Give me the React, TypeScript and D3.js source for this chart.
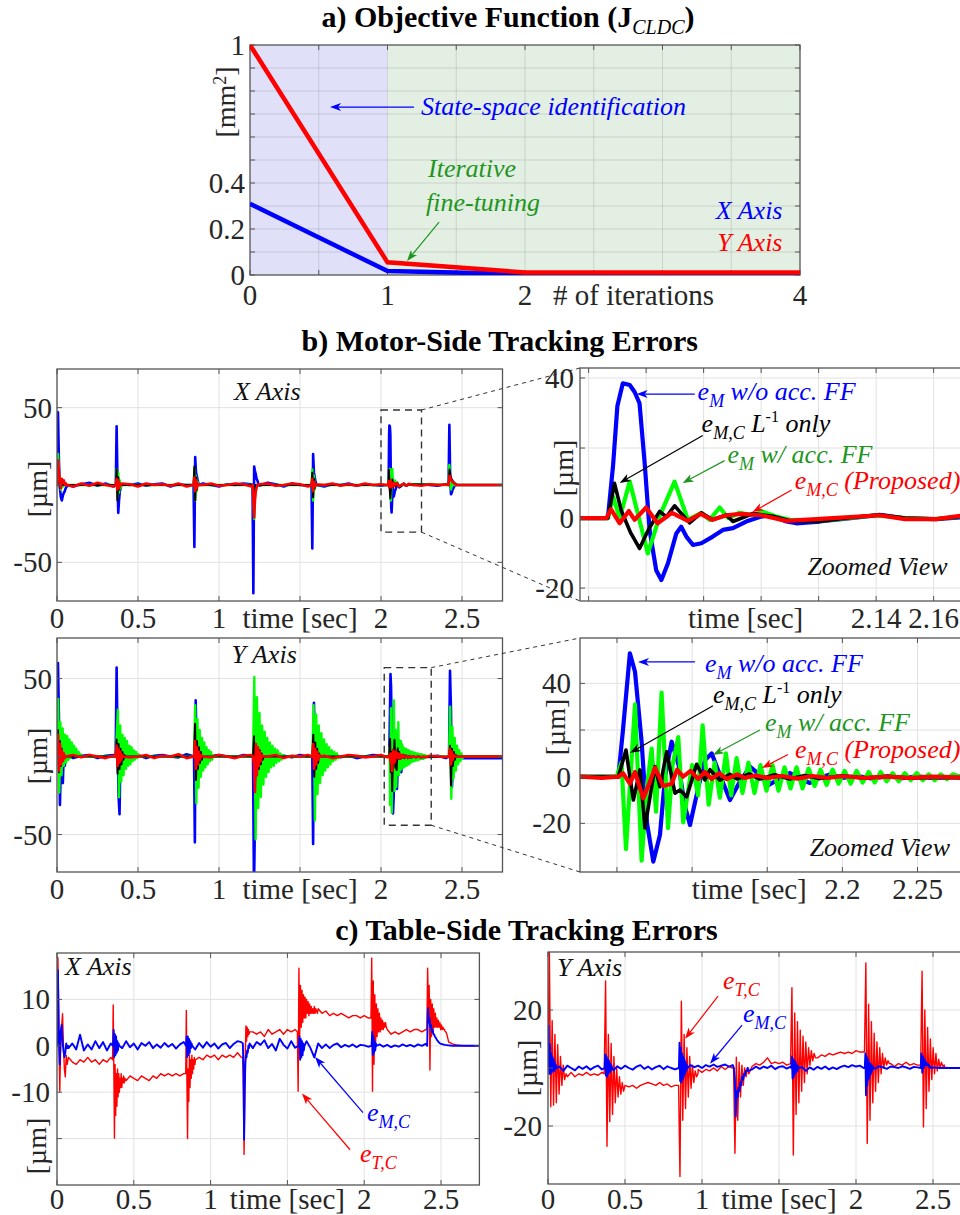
import React from "react";
import * as d3 from "d3";

type Pt = [number, number];
type Burst = { t0: number; dt: number; v: number[] };
type Series = { pts: Pt[]; color: string; width: number };

const FONT = "Liberation Serif";
const BLUE = "#0000ff";
const RED = "#ff0000";
const LIME = "#00ff00";
const BLACK = "#000000";
const DKGREEN = "#1e961e";
const INK = "#262626";
const BOX = "#555555";
const GRID = "#e1e1e1";

// ---------- a) objective function per tuning iteration ----------
const iterations = [0, 1, 2, 3, 4];
const costXAxis = [0.31, 0.017, 0.004, 0.004, 0.004];
const costYAxis = [1.0, 0.055, 0.011, 0.011, 0.011];

// ---------- common time axis ----------
const timeTicks = [0, 0.5, 1, 1.5, 2, 2.5];
const timeTickText = ["0", "0.5", "1", "time [sec]", "2", "2.5"];

// ---------- b) motor-side errors, X axis ----------
// quiet-period ripple, one sample every 0.05 s
const mxBlueQuiet = [
  0, 1, -1, 0.5, 1.5, -0.5, 1, -1, 0.5, 0,
  1, -0.5, 0.5, 1, -1, 0.5, 0, -0.5, 1, 0,
  -1, 0.5, 0, 1, 0.5, -0.5, 1.5, 0.5, -1, 1,
  0, -0.5, 1, -1, 0.5, 0, 1, -0.5, 0.5, 0,
  -0.5, 1, -0.5, 0.5, 0, 0.5, 0, -0.5, 0.5, 0,
  0, 0, 0, 0, 0, 0,
];
const mxRedQuiet = [
  0, 2, -1, 1, -0.5, 1.5, 0, -1, 1, 0.5,
  -1, 1, 0, 0.5, -0.5, 1, -1, 0.5, 0, 1,
  -0.5, 0, 1, 0.5, -1, 0.5, 1, -0.5, 0, 1,
  0.5, -1, 0.5, 0, 1, -0.5, 0.5, -0.5, 1, 0,
  0.5, -0.5, 0, 0.5, 0, -0.5, 0.5, 0, 0.3, 0,
  0, 0, 0, 0, 0, 0,
];
const flatQuiet = [0, 0];

const mxBlueBursts: Burst[] = [
  { t0: 0, dt: 0.006, v: [0, 47, 15, -2, -8, -10, -7, -5, -4, -2, -1, 0] },
  { t0: 0.363, dt: 0.005, v: [0, 38, 5, -18, -10, -4, -2, 0] },
  { t0: 0.843, dt: 0.005, v: [0, -40, 18, 8, 6, 3, 1, 0] },
  { t0: 1.207, dt: 0.005, v: [0, -70, 12, 9, 7, 4, 3, 1, 0] },
  { t0: 1.571, dt: 0.005, v: [0, -41, 20, 8, 5, 2, 0] },
  { t0: 2.417, dt: 0.005, v: [0, 39, 5, -6, -5, -3, -2, -1, 0] },
];
const mxGreenBursts: Burst[] = [
  { t0: 0, dt: 0.006, v: [0, 20, 8, 0, -3, 2, -1, 0] },
  { t0: 0.363, dt: 0.005, v: [0, 10, -8, 8, -5, 3, -2, 0] },
  { t0: 0.843, dt: 0.005, v: [0, 10, -10, 6, -4, 2, 0] },
  { t0: 1.207, dt: 0.005, v: [0, -5, -22, -8, -2, 0] },
  { t0: 1.571, dt: 0.005, v: [0, 10, -10, 6, -3, 0] },
  { t0: 2.417, dt: 0.005, v: [0, 13, 2, -3, 1, 0] },
];
const mxBlackBursts: Burst[] = [
  { t0: 0, dt: 0.006, v: [0, 12, 5, -2, 3, 0] },
  { t0: 0.363, dt: 0.005, v: [0, 10, -10, 5, -3, 1, 0] },
  { t0: 0.843, dt: 0.005, v: [0, 12, -10, 5, -3, 1, 0] },
  { t0: 1.207, dt: 0.005, v: [0, -6, -12, -4, 0] },
  { t0: 1.571, dt: 0.005, v: [0, 8, -8, 4, -2, 0] },
  { t0: 2.417, dt: 0.006, v: [0, 10, 6, 4, 3, 2, 1.5, 1, 0.5, 0] },
];
const mxRedBursts: Burst[] = [
  { t0: 0, dt: 0.006, v: [0, 16, 8, 2, -2, 4, 2, 3, 0, 1, 0] },
  { t0: 0.363, dt: 0.005, v: [0, 4, -3, 3, -2, 1, 0] },
  { t0: 0.843, dt: 0.005, v: [0, 5, -4, 3, -2, 1, 0] },
  { t0: 1.207, dt: 0.005, v: [0, -8, -21, -10, -4, -2, 0] },
  { t0: 1.571, dt: 0.005, v: [0, 4, -4, 2, -1, 0] },
  { t0: 2.417, dt: 0.006, v: [0, 6, 4, 3, 2, 1.5, 1, 0.5, 0] },
];

// transient around t = 2.05 s, X axis (detailed samples)
const mxZoomBlue: Pt[] = [
  [2.037, 0], [2.0467, 0], [2.0485, 15], [2.05, 32], [2.0519, 38.5], [2.0543, 38], [2.056, 36],
  [2.0577, 32.8], [2.0595, 15.6], [2.0612, -3.4], [2.0635, -14.9], [2.0653, -17.7], [2.0676, -12.9],
  [2.0705, -4.4], [2.0722, -2.5], [2.074, -5.3], [2.0763, -7.7], [2.0792, -7.2], [2.0832, -5.3],
  [2.0867, -3.4], [2.0902, -2.9], [2.0948, -1], [2.0995, 0.3], [2.103, 0.9], [2.1088, -1],
  [2.1122, -1.5], [2.1203, -1], [2.1319, 0], [2.1412, 0.9], [2.1493, 0], [2.1609, -0.3], [2.171, 0.3],
];
const mxZoomGreen: Pt[] = [
  [2.037, 0], [2.0467, 0], [2.0485, 6.1], [2.0508, 0], [2.0543, 10.4], [2.0575, 0], [2.0606, -10.1],
  [2.0647, 0.5], [2.0699, 10.4], [2.0745, -0.5], [2.0792, 1.5], [2.0821, -0.5], [2.0856, 3],
  [2.0885, 0], [2.0925, 1.5], [2.0972, 0.8], [2.1006, 1.8], [2.105, 0.5], [2.11, -0.5], [2.12, -0.8],
  [2.13, 0], [2.14, 0.8], [2.15, 0], [2.16, -0.3], [2.171, 0.5],
];
const mxZoomBlack: Pt[] = [
  [2.037, 0], [2.0467, 0], [2.049, 9.9], [2.0514, 2], [2.0545, -4], [2.0577, -8.7], [2.061, -3],
  [2.0647, 1.9], [2.067, 0.3], [2.0699, 3.5], [2.0751, -1.4], [2.0792, 1.5], [2.0832, -0.5],
  [2.0879, 0.9], [2.0902, -1], [2.0972, 1.3], [2.1041, 0.5], [2.11, -0.8], [2.12, -1], [2.13, 0],
  [2.1412, 0.9], [2.15, 0], [2.1609, -0.3], [2.171, 0.5],
];
const mxZoomRed: Pt[] = [
  [2.037, 0], [2.0462, 0], [2.0478, 2.5], [2.0508, -1.5], [2.054, 2], [2.056, -0.5], [2.06, 3],
  [2.064, -1.5], [2.069, 1.5], [2.0745, -0.8], [2.079, 1.2], [2.083, -0.5], [2.088, 0.8], [2.093, 1.2],
  [2.1, 0.8], [2.1088, -0.8], [2.115, -0.5], [2.125, 0], [2.1412, 0.8], [2.15, -0.3], [2.1609, -0.3],
  [2.171, 0.8],
];

// ---------- b) motor-side errors, Y axis ----------
const myBlueQuiet = [
  0, 1.5, -1, 0.5, 1, -1, 0.5, 1, -0.5, 0,
  1, -1, 0.5, 1, 0, -0.5, 1.5, 0, -1, 0.5,
  1, 0, -0.5, 1, 0.5, -1, 1, 0, 0.5, -0.5,
  1, 0, -1, 0.5, 1, -0.5, 0.5, -1, 0, 1,
  0.5, -0.5, 1, 0, 0.5, -0.5, 0, 0.5, -1, -1,
  -1, -1, -1, -1, -1, -1,
];
const myRedQuiet = [
  0, -1.5, 1, -0.5, 1, 0, -1, 0.5, 1, -0.5,
  0, 1, -1, 0.5, 0, 1.5, -1, 0.5, 0, -0.5,
  1, 0, -1, 0.5, 1, -0.5, 0, 1, -1, 0.5,
  0, 1, -0.5, 0.5, -1, 0, 1, 0.5, -0.5, 0,
  1, -0.5, 0, 0.5, -0.5, 0, 0.5, 0, -0.3, 0,
  0, 0, 0, 0, 0, 0,
];
const myBlueBursts: Burst[] = [
  { t0: 0, dt: 0.006, v: [0, 60, 25, -31, -5, 10, -17, 4, -6, 2, -2, 0] },
  { t0: 0.362, dt: 0.006, v: [0, 57, 10, -25, -37, 5, 8, -10, 3, -3, 0] },
  { t0: 0.846, dt: 0.005, v: [0, -55, 36, 10, -10, 8, -5, 4, -2, 0] },
  { t0: 1.21, dt: 0.006, v: [0, -85, -40, 33, 10, 25, -10, 15, -5, 8, -3, 4, 0] },
  { t0: 1.576, dt: 0.005, v: [0, -56, 34.5, 15, -10, 12, -6, 6, -3, 2, 0] },
  { t0: 2.42, dt: 0.006, v: [0, 55, 30, -19.5, -5, -3, -2, -1.5, -1] },
];
const myGreenBursts: Burst[] = [
  { t0: 0, dt: 0.007, v: [0, 37, -23, 22, -12, 18, -6, 14, -4, 13, -2, 11, -1, 9, 1, 7, 0, 5, 1, 3, 0, 1.5, 0] },
  { t0: 0.362, dt: 0.007, v: [0, 15, 30, -26, 20, -16, 14, -12, 12, -8, 10, -6, 7, -5, 6, -3, 4, -2, 3, -1, 1.5, 0] },
  { t0: 0.846, dt: 0.007, v: [0, 33, -30, 24, -20, 17, -13, 12, -9, 9, -7, 6, -5, 4, -3, 3, -2, 1, 0] },
  { t0: 1.21, dt: 0.008, v: [0, 51, -53, 38, -33, 28, -26, 20, -18, 16, -13, 12, -10, 9, -7, 7, -6, 5, -4, 4, -3, 2, -2, 1, 0] },
  { t0: 1.576, dt: 0.008, v: [0, 33, -41, 27, -24, 20, -17, 15, -12, 11, -9, 8, -7, 6, -5, 4, -3, 3, -2, 2, -1, 0] },
  { t0: 2.42, dt: 0.007, v: [0, 32, -27, 19, -14, 12, -9, 7, -5, 4, -3, 2, -1, 0] },
];
const myBlackBursts: Burst[] = [
  { t0: 0, dt: 0.006, v: [0, 17, -10, 10, -6, 5, -3, 2, 0] },
  { t0: 0.362, dt: 0.006, v: [0, 11, -11, 8, -8, 5, -5, 3, -2, 1, 0] },
  { t0: 0.846, dt: 0.006, v: [0, 21, -15, 10, -8, 6, -4, 3, -2, 0] },
  { t0: 1.21, dt: 0.006, v: [0, 13, -22, 8, -12, 6, -8, 4, -5, 2, -2, 0] },
  { t0: 1.576, dt: 0.006, v: [0, 14, -13, 9, -8, 5, -4, 2, 0] },
  { t0: 2.42, dt: 0.006, v: [0, 7, -18.5, 5, -6, 3, -2, 1, 0] },
];
const myRedBursts: Burst[] = [
  { t0: 0, dt: 0.006, v: [0, 14, -9, 8, -5, 4, -3, 2, -1, 0] },
  { t0: 0.362, dt: 0.006, v: [0, 7, -6, 5, -4, 3, -2, 1, 0] },
  { t0: 0.846, dt: 0.006, v: [0, 10, -8, 6, -5, 3, -2, 1, 0] },
  { t0: 1.21, dt: 0.006, v: [0, -5, -22.7, 8, -12, 6, -6, 3, -3, 1, 0] },
  { t0: 1.576, dt: 0.006, v: [0, 8, -8, 5, -5, 3, -2, 1, 0] },
  { t0: 2.42, dt: 0.006, v: [0, 5, -5, 3, -2, 1, 0] },
];

// transient around t = 2.05 s, Y axis (detailed samples)
const myZoomBlue: Pt[] = [
  [2.0254, 0], [2.0509, 0], [2.054, 20], [2.0586, 52.9], [2.062, 45], [2.0664, 15], [2.07, -20],
  [2.0742, -36.4], [2.0786, -25], [2.082, 0], [2.0864, 15], [2.091, 5], [2.095, -12], [2.0986, -20.7],
  [2.104, -5], [2.1085, 7], [2.113, 10], [2.119, 0], [2.1252, -10], [2.131, -3], [2.1385, 4.3],
  [2.1445, 1], [2.1507, -3.6], [2.158, -1], [2.1651, 1.6], [2.172, -1], [2.1784, -2.7], [2.185, -0.5],
  [2.1917, 0.9], [2.2, -0.5], [2.21, 0.3], [2.22, -0.8], [2.23, 0.2], [2.24, -0.6], [2.25, 0.2],
  [2.26, -0.5], [2.2782, 0],
];
const myZoomGreen: Pt[] = [
  [2.0254, 0], [2.0498, 0], [2.053, 6], [2.056, -31], [2.062, 31], [2.0664, -36], [2.07, -4],
  [2.0731, 12], [2.076, -15], [2.0797, 36], [2.084, -22], [2.087, 5], [2.0908, 17], [2.0941, -19.6],
  [2.1, 5], [2.104, -8], [2.107, 22], [2.111, -12], [2.115, 6], [2.1185, -9], [2.1225, 10],
  [2.126, -8], [2.1296, 8], [2.1335, -7], [2.1375, 6], [2.1415, -7], [2.1455, 5], [2.1495, -6],
  [2.1535, 5], [2.1575, -6], [2.1615, 4], [2.1655, -5], [2.1695, 4], [2.1735, -5], [2.1775, 3.5],
  [2.1815, -4], [2.1855, 3], [2.1895, -3.5], [2.1935, 3], [2.1975, -3], [2.2015, 2.5], [2.2055, -3],
  [2.2095, 2.5], [2.2135, -2.5], [2.2175, 2], [2.2215, -2.5], [2.2255, 2], [2.2295, -2], [2.2335, 1.5],
  [2.2375, -2], [2.2415, 1.5], [2.2455, -1.5], [2.2495, 1.5], [2.2535, -1.5], [2.2575, 1],
  [2.2615, -1.5], [2.2655, 1], [2.2695, -1], [2.2735, 1], [2.2782, 0],
];
const myZoomBlack: Pt[] = [
  [2.0254, 0], [2.0509, 0], [2.056, 11.4], [2.0609, -10], [2.0653, 2.9], [2.0686, -22], [2.0753, 4.4],
  [2.0786, -4.3], [2.0831, 10.7], [2.0886, -7.1], [2.0919, -5.7], [2.0964, -8.6], [2.103, 5.3],
  [2.1085, -1.4], [2.1119, 3], [2.1185, -1.5], [2.125, 1], [2.13, -1], [2.138, 1.2], [2.145, -1],
  [2.155, 0.8], [2.165, -1], [2.175, 0.5], [2.185, -0.8], [2.2, 0.4], [2.215, -0.6], [2.23, 0.2],
  [2.245, -0.6], [2.26, -0.3], [2.2782, -0.5],
];
const myZoomRed: Pt[] = [
  [2.0254, 0], [2.04, -0.5], [2.0509, 0], [2.054, 1.5], [2.0586, -3], [2.062, 2], [2.0675, -9.3],
  [2.072, -2], [2.0753, 3.9], [2.0808, -4], [2.0864, -3], [2.09, 3], [2.094, 0], [2.099, 2.5],
  [2.104, -1], [2.1085, 2], [2.113, -1], [2.118, 1.5], [2.123, -1], [2.13, 1], [2.135, -0.5],
  [2.142, 0.5], [2.15, -0.5], [2.16, 0.3], [2.17, -0.8], [2.18, 0.3], [2.19, -0.5], [2.2, 0.2],
  [2.215, -0.5], [2.23, 0], [2.245, -0.5], [2.26, 0], [2.2782, -0.3],
];

// ---------- c) table-side errors (samples every 0.025 s between transients) ----------
const cxRedQuiet = [
  0, -3, -4, -2.5, -3.5, -4, -3, -3.5, -2.5, -3.5,
  -3, -4, -3, -3.5, -2.5, -3, -7, -6, -7.5, -6.5,
  -7, -7.5, -6.5, -7, -7.5, -6.5, -7, -6, -6.5, -6,
  -6.5, -6, -6.5, -6, -6, -3, -3.5, -2.5, -3, -2,
  -2.5, -2, -3, -2, -2.5, -2, -2.5, -1.5, -2.5, 0,
  2, 3, 2.5, 3, 2, 3.5, 2.5, 3, 3.5, 2.5,
  3.5, 3, 3.5, 3, 5, 8, 8, 7, 8, 7,
  7.5, 6.5, 7, 6.5, 7, 6.5, 6, 6.5, 6.5, 6,
  6.5, 6, 5, 5, 4, 3, 3.5, 2.5, 3, 2.5,
  3, 3.5, 3, 3.5, 3.5, 3, 3.5, 3.5, 3.5, 3,
  2, 1.2, 0.8, 0.4, 0.2, 0.1, 0, 0, 0, 0, 0,
];
const cxBlueQuiet = [
  0, 2, -1.5, -0.5, 0.5, -0.8, 2.4, -1, 0.3, -0.8,
  1, -0.5, 0.8, -1, 0.5, 0, 0.8, -0.5, 1, -0.3,
  0.5, -0.8, 0.6, 0, 0.8, -0.5, 0.3, -0.4, 0.6, -0.2,
  0.4, -0.6, 0.3, 0.8, 0, 0.5, -0.8, 0.6, -0.4, 0.8,
  -0.2, 0.5, -0.6, 0.3, 0.6, -0.5, 0.4, 1, 0.8, 0,
  -1.5, -0.5, 0.8, 0.2, 1.2, -0.5, 0.4, -1, 1.5, 0.2,
  -0.6, 1, -0.4, 0.5, 0, 1, -0.5, -2.5, 0.5, -0.5,
  0.3, -0.5, 0.2, 0.5, -0.3, 0.2, -0.2, 0.3, -0.3, 0.2,
  0.1, -0.2, 0, -0.5, 0.3, -0.2, 0.2, -0.3, 0.1, -0.2,
  0.3, -0.1, 0.2, -0.2, 0.3, 0, 0.4, 0, 0.5, 0.4,
  0.3, 0.2, 0.1, 0, 0, 0, 0, 0, 0, 0, 0,
];
const cxRedBursts: Burst[] = [
  { t0: 0, dt: 0.006, v: [0, 19, 4, -9.8, 0, 4, 6.9, 0, -5, -6.7, -2, -4, -3] },
  { t0: 0.362, dt: 0.004, v: [-3, 8.8, -5, -19.9, -4, -15, -6, -13, -5, -11, -6, -10, -7, -9, -6, -9, -7, -8, -6.5, -8, -7] },
  { t0: 0.838, dt: 0.004, v: [-6, 7.6, -8, -20, -5, -12, -2, -9, -3, -7, -2, -6, -3, -5, -2.5, -4, -3] },
  { t0: 1.21, dt: 0.004, v: [-2.5, -10, -23.4, -12, -2, 4.3, 1, 4, 2, 3.5, 2.5, 3] },
  { t0: 1.565, dt: 0.005, v: [3, -9.8, 16.7, 2, 13, 4, 12, 5, 11, 6, 10.5, 6, 10, 7, 9.5, 6.5, 9, 7, 8.5, 7, 8, 7, 8.5, 7, 8, 7.5, 7] },
  { t0: 2.044, dt: 0.005, v: [6, 18.9, -9.8, 14, -4, 11, 0, 9, 2, 8, 3, 7, 3, 6, 3.5, 5.5, 3.5, 5, 4, 5, 4] },
  { t0: 2.408, dt: 0.005, v: [3.5, 16.7, 8, 13, -5.2, 10, 2, 9, 3, 8, 4, 7, 4, 6, 4, 5.5, 4, 5, 3.5, 4.5, 3.5, 4, 3.5, 3.5, 3, 3, 2.5] },
];
const cxBlueBursts: Burst[] = [
  { t0: 0, dt: 0.006, v: [0, 16.3, 2, -4, 3, 4.5, 1, -1, -2.4, -1.5, 0.5, -0.5, 0] },
  { t0: 0.365, dt: 0.004, v: [0, 3.4, -2.4, 2.5, -2, 2, -1.5, 1, -1, 0.5, 0] },
  { t0: 0.84, dt: 0.004, v: [0, 2, -2.4, 2, -2, 1.5, -1.5, 1, -0.5, 0.5, 0] },
  { t0: 1.21, dt: 0.004, v: [0.5, -5, -20.2, -10, -4, -2, -2.5, -1, -1.5, 0, -0.5, 0.5] },
  { t0: 1.575, dt: 0.004, v: [0, 2, -3, 1.5, -2.5, 1, -2, 0.5, -1, 0] },
  { t0: 2.048, dt: 0.004, v: [0, 3, -2, 2, -1.5, 1, -1, 0.5, 0] },
  { t0: 2.41, dt: 0.005, v: [0, 8.1, 5, 6, 4, 4.5, 3, 3.5, 2.5, 2.5, 2, 1.8, 1.5, 1.2, 1, 0.8, 0.6, 0.5, 0.4] },
];

const cyRedQuiet = [
  0, -2, -3, -2, -3, -2.5, -1.5, -3, -2, -2.5,
  -1.5, -2.5, -2, -2.5, -1.5, -2, -5, -6, -5.5, -7,
  -5.5, -6.5, -6, -7, -6, -5.5, -5, -5.5, -6, -5,
  -6, -5.5, -6.5, -6, -6, -2, -3, -1, -2, -0.5,
  -1.5, -0.5, -1, 0, -1, 0.5, -0.5, 0.5, 0, 0,
  -2, 0, 1, 0.5, 1.5, 1, 2, 3.5, 1.5, 2,
  1.5, 2, 1, 1.5, 1.5, 2, 3, 3, 3.5, 4,
  3.5, 4.5, 4, 5, 4.5, 5, 5.5, 5, 5.5, 5,
  6, 5.5, 5.5, 4, 3, 2, 1.5, 2, 1, 1.5,
  0.5, 1.5, 1, 2, 1, 1.5, 1, 1, 1, 1,
  1, 0.8, 0.5, 0.3, 0, 0, 0, 0, 0, 0, 0,
];
const cyBlueQuiet = [
  0, 1, -0.5, 0.5, -1, 0.8, 0, -0.8, 0.5, -0.3,
  0.6, -0.6, 0.3, 0.8, -0.5, 0, 0.5, -0.8, 0.6, -0.3,
  0.8, 0, -0.6, 0.5, 1, -0.3, 0.5, -0.5, 0.3, 0.8,
  -0.4, 0.6, 0, -0.5, 0, 0.8, -0.5, 1, 0.3, 0.8,
  0, 1, 0.5, 1.2, 0.4, 0.8, 1.2, 0.5, 1, 0,
  -3, -2, -1, -0.5, 0.5, -0.3, 0.5, 0, 0.8, -0.4,
  0.4, 0.6, -0.2, 0.5, 0, -0.8, 0.3, -1, 0.2, -0.6,
  0.4, -0.3, 0.5, -0.5, 0.2, -0.4, 0.4, 0.8, 0.3, 1,
  0.5, 0.8, 0, -0.5, 0.4, -0.2, 0.6, 0.2, -0.3, 0.5,
  0.3, 0, 0.6, 0.2, -0.3, 0.4, 0.2, 0, 0.5, 0.3,
  0.2, 0.1, 0, 0, 0, 0, 0, 0, 0, 0, 0,
];
const cyRedBursts: Burst[] = [
  { t0: 0, dt: 0.009, v: [0, 40, -13.4, 16.3, -12.8, 11.6, -12, 8, -9, 4, -6, 1, -4, -2, -3] },
  { t0: 0.365, dt: 0.009, v: [-2, 30, -27, 11.6, -18.5, 8.5, -16, 4, -12, 0, -10, -3, -9, -5, -8, -6] },
  { t0: 0.848, dt: 0.009, v: [-6, -37.4, 23, -18, 11.6, -14, 7, -10, 4, -7, 1, -5, -1, -3, -2] },
  { t0: 1.205, dt: 0.009, v: [0, -29.4, 3.7, -18, 2, -10, 1, -6, 0, -3, 0, -2] },
  { t0: 1.575, dt: 0.009, v: [1.5, 27.7, -30, 19, -16, 16, -12, 13, -8, 11, -5, 9, -2, 7, 1, 6, 2.5, 5, 3.5] },
  { t0: 2.055, dt: 0.009, v: [5.5, 36.2, -26, 22, -18, 16, -12, 12, -8, 9, -5, 7, -2, 5, 0, 3.5, 1, 2.5, 1.5] },
  { t0: 2.42, dt: 0.009, v: [1, 33.4, -20.3, 20, -14, 14, -8, 10, -4, 7, -2, 5, -1, 3, 0, 2, 0.5, 1] },
];
const cyBlueBursts: Burst[] = [
  { t0: 0, dt: 0.004, v: [0, 14.6, -2, 8, -2, 5, -1.5, 4, -1, 3, -1, 2, -0.5, 1, 0] },
  { t0: 0.368, dt: 0.004, v: [0, 4.7, -2.6, 4, -3, 3, -2, 2.5, -1.5, 1.5, -1, 1, 0] },
  { t0: 0.85, dt: 0.004, v: [0, 8.7, -4.5, 7, -5, 5, -4, 4, -3, 3, -2, 2, -1, 1, 0] },
  { t0: 1.207, dt: 0.006, v: [0, -4, -16.8, -8, -10, -6.8, -8, -5, -6, -3, -4, -2, -2.5, -1, -1, 0] },
  { t0: 1.58, dt: 0.004, v: [0, 4, -3.6, 3, -3, 2.5, -2, 2, -1.5, 1, -1, 0.5, 0] },
  { t0: 2.057, dt: 0.004, v: [0, 5, -9.4, 4, -6, 3, -4, 2, -3, 1.5, -2, 1, -1, 0.5, 0] },
  { t0: 2.42, dt: 0.005, v: [0, 5, -1.6, 4, 0, 3, 1, 2, 1, 1.5, 0.5, 1, 0.5, 0] },
];

// merge slow samples with transient bursts (bursts replace the slow samples they overlap)
function assemble(quiet: number[], step: number, bursts: Burst[], pinned: Pt[][] = []): Pt[] {
  const spans: [number, number][] = [
    ...bursts.map((b) => [b.t0, b.t0 + b.dt * (b.v.length - 1)] as [number, number]),
    ...pinned.map((p) => [p[0][0], p[p.length - 1][0]] as [number, number]),
  ];
  const pts: Pt[] = [];
  quiet.forEach((q, i) => {
    const t = i * step;
    if (!spans.some(([a, b]) => t >= a && t <= b)) pts.push([t, q]);
  });
  bursts.forEach((b) => b.v.forEach((v, j) => pts.push([b.t0 + j * b.dt, v])));
  pinned.forEach((p) => p.forEach((q) => pts.push(q)));
  return pts.sort((a, b) => a[0] - b[0]);
}

const QB = 0.05;
const QC = 0.025;

type Scale = d3.ScaleLinear<number, number>;

// ---------- text runs (mixed sizes / sub- and superscripts laid out side by side) ----------
const BASE = 30;
let measureCtx: CanvasRenderingContext2D | null = null;
function runWidth(t: string, italic: boolean, bold: boolean): number {
  if (!measureCtx) measureCtx = document.createElement("canvas").getContext("2d");
  if (!measureCtx) return t.length * 14;
  measureCtx.font = `${italic ? "italic " : ""}${bold ? "bold " : ""}${BASE}px "${FONT}"`;
  return measureCtx.measureText(t).width;
}

type Run = { t: string; size: number; dy?: number; italic?: boolean; bold?: boolean };

function Rich(props: {
  x: number;
  y: number;
  runs: Run[];
  fill: string;
  anchor?: "start" | "middle" | "end";
  rotate?: number;
}) {
  const widths = props.runs.map((r) => (runWidth(r.t, !!r.italic, !!r.bold) * r.size) / BASE);
  const total = widths.reduce((a, b) => a + b, 0);
  const start = props.anchor === "middle" ? -total / 2 : props.anchor === "end" ? -total : 0;
  let cx = start;
  return (
    <g transform={`translate(${props.x},${props.y})${props.rotate ? ` rotate(${props.rotate})` : ""}`}>
      {props.runs.map((r, i) => {
        const px = cx;
        cx += widths[i];
        return (
          <text
            key={i}
            transform={`translate(${px},${r.dy ?? 0}) scale(${r.size / BASE})`}
            fontFamily={FONT}
            fontSize={BASE}
            fontStyle={r.italic ? "italic" : "normal"}
            fontWeight={r.bold ? "bold" : "normal"}
            fill={props.fill}
            style={{ whiteSpace: "pre" }}
          >
            {r.t}
          </text>
        );
      })}
    </g>
  );
}

const TICK = 29;
const ANN = 26;
const SUB = 18;

const plain = (t: string, size = TICK): Run[] => [{ t, size }];
const ital = (t: string, size = ANN): Run[] => [{ t, size, italic: true }];
const eSub = (sub: string, rest: Run[] = []): Run[] => [
  { t: "e", size: ANN, italic: true },
  { t: sub, size: SUB, italic: true, dy: 7 },
  ...rest,
];
const L1only: Run[] = [
  { t: " L", size: ANN, italic: true },
  { t: "-1", size: 16, dy: -10 },
  { t: " only", size: ANN, italic: true },
];
const microns: Run[] = [{ t: "[µm]", size: 28 }];

function Plot(props: {
  id: string;
  x: Scale;
  y: Scale;
  xTicks: number[];
  yTicks: number[];
  xGrid: number[];
  yGrid: number[];
  xLabels: [number, string][];
  yLabels: [number, string][];
  xLabelDy: number;
  yLabelGap: number;
  series: Series[];
  under?: React.ReactNode;
  gridColor?: string;
}) {
  const { id, x, y } = props;
  const [x0, x1] = x.range();
  const [y0, y1] = y.range();
  const line = d3
    .line<Pt>()
    .x((d) => x(d[0]))
    .y((d) => y(d[1]));
  const tl = 5;
  return (
    <g>
      <clipPath id={id}>
        <rect x={x0} y={y1} width={x1 - x0} height={y0 - y1} />
      </clipPath>
      {props.under}
      <g stroke={props.gridColor ?? GRID} strokeWidth={1}>
        {props.xGrid.map((v) => (
          <line key={"gx" + v} x1={x(v)} x2={x(v)} y1={y1} y2={y0} />
        ))}
        {props.yGrid.map((v) => (
          <line key={"gy" + v} x1={x0} x2={x1} y1={y(v)} y2={y(v)} />
        ))}
      </g>
      <g clipPath={`url(#${id})`} fill="none" strokeLinejoin="round" strokeLinecap="round">
        {props.series.map((s, i) => (
          <path key={i} d={line(s.pts) ?? ""} stroke={s.color} strokeWidth={s.width} />
        ))}
      </g>
      <rect x={x0} y={y1} width={x1 - x0} height={y0 - y1} fill="none" stroke={BOX} strokeWidth={1.3} />
      <g stroke={BOX} strokeWidth={1}>
        {props.xTicks.map((v) => (
          <g key={"tx" + v}>
            <line x1={x(v)} x2={x(v)} y1={y0} y2={y0 - tl} />
            <line x1={x(v)} x2={x(v)} y1={y1} y2={y1 + tl} />
          </g>
        ))}
        {props.yTicks.map((v) => (
          <g key={"ty" + v}>
            <line x1={x0} x2={x0 + tl} y1={y(v)} y2={y(v)} />
            <line x1={x1} x2={x1 - tl} y1={y(v)} y2={y(v)} />
          </g>
        ))}
      </g>
      {props.xLabels.map(([v, t]) => (
        <Rich key={"lx" + t} x={x(v)} y={y0 + props.xLabelDy} runs={plain(t)} fill={INK} anchor="middle" />
      ))}
      {props.yLabels.map(([v, t]) => (
        <Rich key={"ly" + t} x={x0 - props.yLabelGap} y={y(v) + 10} runs={plain(t)} fill={INK} anchor="end" />
      ))}
    </g>
  );
}

function Arrow(props: { x1: number; y1: number; x2: number; y2: number; color: string }) {
  const { x1, y1, x2, y2, color } = props;
  const a = Math.atan2(y2 - y1, x2 - x1);
  const L = 11;
  const W = 4;
  const bx = x2 - L * Math.cos(a);
  const by = y2 - L * Math.sin(a);
  const nx = x2 - (L - 3) * Math.cos(a);
  const ny = y2 - (L - 3) * Math.sin(a);
  const px = -Math.sin(a) * W;
  const py = Math.cos(a) * W;
  return (
    <g>
      <line x1={x1} y1={y1} x2={nx} y2={ny} stroke={color} strokeWidth={1.2} />
      <polygon points={`${x2},${y2} ${bx + px},${by + py} ${nx},${ny} ${bx - px},${by - py}`} fill={color} />
    </g>
  );
}

function YLabel(props: { x: number; y: number; runs: Run[] }) {
  return <Rich x={props.x + 9} y={props.y} runs={props.runs} fill={INK} anchor="middle" rotate={-90} />;
}

export default function App() {
  const range = (a: number, b: number, s: number) => d3.range(a, b + s / 2, s).map((v) => +v.toFixed(4));

  // ---- scales ----
  const ax = d3.scaleLinear().domain([0, 4]).range([250, 800]);
  const ay = d3.scaleLinear().domain([0, 1]).range([275, 45]);

  const bxX = d3.scaleLinear().domain([0, 2.75]).range([57, 502.5]);
  const bxY = d3.scaleLinear().domain([-75, 75]).range([601, 369]);
  const bzX = d3.scaleLinear().domain([2.037, 2.171]).range([580, 965.25]);
  const bzY = d3.scaleLinear().domain([-23.7, 42.86]).range([601, 368]);

  const byX = d3.scaleLinear().domain([0, 2.75]).range([57, 502.5]);
  const byY = d3.scaleLinear().domain([-74, 76]).range([872, 638]);
  const bwX = d3.scaleLinear().domain([2.0254, 2.2816]).range([580, 965]);
  const bwY = d3.scaleLinear().domain([-40.85, 59.45]).range([872, 638]);

  const cxX = d3.scaleLinear().domain([0, 2.75]).range([57, 479.4]);
  const cxY = d3.scaleLinear().domain([-30, 20]).range([1185, 953]);
  const cyX = d3.scaleLinear().domain([0, 2.75]).range([548, 971.5]);
  const cyY = d3.scaleLinear().domain([-40, 40]).range([1184, 952]);

  // ---- series ----
  const mxBlue = assemble(mxBlueQuiet, QB, mxBlueBursts, [mxZoomBlue]);
  const mxGreen = assemble(flatQuiet, 2.75, mxGreenBursts, [mxZoomGreen]);
  const mxBlack = assemble(flatQuiet, 2.75, mxBlackBursts, [mxZoomBlack]);
  const mxRed = assemble(mxRedQuiet, QB, mxRedBursts, [mxZoomRed]);

  const myBlue = assemble(myBlueQuiet, QB, myBlueBursts, [myZoomBlue]);
  const myGreen = assemble(flatQuiet, 2.75, myGreenBursts, [myZoomGreen]);
  const myBlack = assemble(flatQuiet, 2.75, myBlackBursts, [myZoomBlack]);
  const myRed = assemble(myRedQuiet, QB, myRedBursts, [myZoomRed]);

  const cxRed = assemble(cxRedQuiet, QC, cxRedBursts);
  const cxBlue = assemble(cxBlueQuiet, QC, cxBlueBursts);
  const cyRed = assemble(cyRedQuiet, QC, cyRedBursts);
  const cyBlue = assemble(cyBlueQuiet, QC, cyBlueBursts);

  const motorFull = (b: Pt[], g: Pt[], k: Pt[], r: Pt[]): Series[] => [
    { pts: b, color: BLUE, width: 2.6 },
    { pts: g, color: LIME, width: 2.4 },
    { pts: k, color: BLACK, width: 2 },
    { pts: r, color: RED, width: 2.6 },
  ];
  const motorZoom = (b: Pt[], g: Pt[], k: Pt[], r: Pt[]): Series[] => [
    { pts: b, color: BLUE, width: 4.2 },
    { pts: g, color: LIME, width: 4.2 },
    { pts: k, color: BLACK, width: 3.6 },
    { pts: r, color: RED, width: 4.2 },
  ];

  const timeLabels: [number, string][] = timeTicks.map((t, i) => [t, timeTickText[i]]);
  const line = d3
    .line<Pt>()
    .x((d) => ax(d[0]))
    .y((d) => ay(d[1]));
  const costX: Pt[] = iterations.map((it, i) => [it, costXAxis[i]]);
  const costY: Pt[] = iterations.map((it, i) => [it, costYAxis[i]]);

  // zoom window outlines (time / value extents)
  const winX = { t0: 2.0, t1: 2.25, v0: -30.5, v1: 48.5 };
  const winY = { t0: 2.02, t1: 2.31, v0: -44, v1: 57 };

  const dashBox = (xs: Scale, ys: Scale, w: typeof winX) => (
    <rect
      x={xs(w.t0)}
      y={ys(w.v1)}
      width={xs(w.t1) - xs(w.t0)}
      height={ys(w.v0) - ys(w.v1)}
      fill="none"
      stroke="#333"
      strokeWidth={1.4}
      strokeDasharray="7,5"
    />
  );
  const connectors = (xs: Scale, ys: Scale, w: typeof winX, zx: Scale, zy: Scale) => {
    const zl = zx.range()[0];
    const [zb, zt] = zy.range();
    return (
      <g stroke="#333" strokeWidth={1} strokeDasharray="4,4" fill="none">
        <line x1={xs(w.t1)} y1={ys(w.v1)} x2={zl} y2={zt} />
        <line x1={xs(w.t1)} y1={ys(w.v0)} x2={zl} y2={zb} />
      </g>
    );
  };

  return (
    <svg width={960} height={1215} style={{ position: "absolute", left: 0, top: 0, background: "#fff" }}>
      <rect x={0} y={0} width={960} height={1215} fill="#fff" />

      {/* ================= a) ================= */}
      <Rich
        x={508}
        y={27}
        anchor="middle"
        fill="#000"
        runs={[
          { t: "a) Objective Function (J", size: 30, bold: true },
          { t: "CLDC", size: 20, italic: true, dy: 7 },
          { t: ")", size: 30, bold: true },
        ]}
      />
      <Plot
        id="clip-a"
        x={ax}
        y={ay}
        xTicks={range(0, 4, 0.5)}
        yTicks={range(0, 1, 0.1)}
        xGrid={range(0.5, 3.5, 0.5)}
        yGrid={range(0.1, 0.9, 0.1)}
        xLabels={[
          [0, "0"],
          [1, "1"],
          [2, "2"],
          [4, "4"],
        ]}
        yLabels={[
          [1, "1"],
          [0.4, "0.4"],
          [0.2, "0.2"],
          [0, "0"],
        ]}
        xLabelDy={30}
        yLabelGap={5}
        gridColor="rgba(0,0,0,0.11)"
        series={[]}
        under={
          <g>
            <rect x={ax(0)} y={ay(1)} width={ax(1) - ax(0)} height={ay(0) - ay(1)} fill="#e0e0f8" />
            <rect x={ax(1)} y={ay(1)} width={ax(4) - ax(1)} height={ay(0) - ay(1)} fill="#e3efe3" />
          </g>
        }
      />
      <g clipPath="url(#clip-a)" fill="none" strokeLinejoin="miter">
        <path d={line(costX) ?? ""} stroke={BLUE} strokeWidth={4.5} />
        <path d={line(costY) ?? ""} stroke={RED} strokeWidth={4.5} />
      </g>
      <Rich x={ax(2) + 28} y={305} runs={plain("# of iterations")} fill={INK} />
      <YLabel
        x={226}
        y={102}
        runs={[
          { t: "[mm", size: 28 },
          { t: "2", size: 18, dy: -9 },
          { t: "]", size: 28 },
        ]}
      />
      <Rich x={ax(1.244)} y={ay(0.696)} runs={ital("State-space identification")} fill={BLUE} />
      <Arrow x1={ax(1.193)} y1={ay(0.73)} x2={ax(0.582)} y2={ay(0.73)} color={BLUE} />
      <Rich x={ax(1.295)} y={ay(0.426)} runs={ital("Iterative")} fill={DKGREEN} />
      <Rich x={ax(1.28)} y={ay(0.278)} runs={ital("fine-tuning")} fill={DKGREEN} />
      <Arrow x1={ax(1.375)} y1={ay(0.23)} x2={ax(1.142)} y2={ay(0.061)} color={DKGREEN} />
      <Rich x={ax(3.876)} y={ay(0.243)} runs={ital("X Axis")} fill={BLUE} anchor="end" />
      <Rich x={ax(3.876)} y={ay(0.104)} runs={ital("Y Axis")} fill={RED} anchor="end" />

      {/* ================= b) ================= */}
      <Rich x={500} y={351} anchor="middle" fill="#000" runs={[{ t: "b) Motor-Side Tracking Errors", size: 30, bold: true }]} />

      {/* X axis, full run */}
      <Plot
        id="clip-bx"
        x={bxX}
        y={bxY}
        xTicks={timeTicks}
        yTicks={[-50, 0, 50]}
        xGrid={timeTicks}
        yGrid={[-50, 0, 50]}
        xLabels={timeLabels}
        yLabels={[
          [50, "50"],
          [-50, "-50"],
        ]}
        xLabelDy={27}
        yLabelGap={5}
        series={motorFull(mxBlue, mxGreen, mxBlack, mxRed)}
      />
      <YLabel x={38} y={489} runs={microns} />
      <Rich x={bxX(1.3)} y={bxY(55)} runs={ital("X Axis")} fill="#111" anchor="middle" />
      {dashBox(bxX, bxY, winX)}
      {connectors(bxX, bxY, winX, bzX, bzY)}

      {/* X axis, zoomed transient */}
      <Plot
        id="clip-bz"
        x={bzX}
        y={bzY}
        xTicks={[2.04, 2.06, 2.08, 2.1, 2.12, 2.14, 2.16]}
        yTicks={[-20, 0, 20, 40]}
        xGrid={[2.04, 2.06, 2.08, 2.1, 2.12, 2.14, 2.16]}
        yGrid={[-20, 0, 20, 40]}
        xLabels={[
          [2.0946, "time [sec]"],
          [2.14, "2.14"],
          [2.16, "2.16"],
        ]}
        yLabels={[
          [40, "40"],
          [0, "0"],
          [-20, "-20"],
        ]}
        xLabelDy={27}
        yLabelGap={6}
        series={motorZoom(mxZoomBlue, mxZoomGreen, mxZoomBlack, mxZoomRed)}
      />
      <YLabel x={564} y={468} runs={microns} />
      <Rich x={bzX(2.0779)} y={bzY(33.7)} runs={eSub("M", ital(" w/o acc. FF"))} fill={BLUE} />
      <Arrow x1={bzX(2.0769)} y1={bzY(35.4)} x2={bzX(2.0567)} y2={bzY(35.4)} color={BLUE} />
      <Rich x={bzX(2.0793)} y={bzY(24.7)} runs={eSub("M,C", L1only)} fill={BLACK} />
      <Arrow x1={bzX(2.0797)} y1={bzY(23.6)} x2={bzX(2.0508)} y2={bzY(10)} color={BLACK} />
      <Rich x={bzX(2.0883)} y={bzY(15.8)} runs={eSub("M", ital(" w/ acc. FF"))} fill={DKGREEN} />
      <Arrow x1={bzX(2.0873)} y1={bzY(16.4)} x2={bzX(2.0727)} y2={bzY(10)} color={DKGREEN} />
      <Rich x={bzX(2.1117)} y={bzY(8.2)} runs={eSub("M,C", ital(" (Proposed)"))} fill={RED} />
      <Arrow x1={bzX(2.1106)} y1={bzY(8)} x2={bzX(2.097)} y2={bzY(1.7)} color={RED} />
      <Rich x={bzX(2.1649)} y={bzY(-16.3)} runs={ital("Zoomed View")} fill="#111" anchor="end" />

      {/* Y axis, full run */}
      <Plot
        id="clip-by"
        x={byX}
        y={byY}
        xTicks={timeTicks}
        yTicks={[-50, 0, 50]}
        xGrid={timeTicks}
        yGrid={[-50, 0, 50]}
        xLabels={timeLabels}
        yLabels={[
          [50, "50"],
          [-50, "-50"],
        ]}
        xLabelDy={27}
        yLabelGap={5}
        series={motorFull(myBlue, myGreen, myBlack, myRed)}
      />
      <YLabel x={38} y={756} runs={microns} />
      <Rich x={byX(1.28)} y={byY(59.7)} runs={ital("Y Axis")} fill="#111" anchor="middle" />
      {dashBox(byX, byY, winY)}
      {connectors(byX, byY, winY, bwX, bwY)}

      {/* Y axis, zoomed transient */}
      <Plot
        id="clip-bw"
        x={bwX}
        y={bwY}
        xTicks={[2.05, 2.1, 2.15, 2.2, 2.25]}
        yTicks={[-20, 0, 20, 40]}
        xGrid={[2.05, 2.1, 2.15, 2.2, 2.25]}
        yGrid={[-20, 0, 20, 40]}
        xLabels={[
          [2.138, "time [sec]"],
          [2.2, "2.2"],
          [2.25, "2.25"],
        ]}
        yLabels={[
          [40, "40"],
          [0, "0"],
          [-20, "-20"],
        ]}
        xLabelDy={27}
        yLabelGap={9}
        series={motorZoom(myZoomBlue, myZoomGreen, myZoomBlack, myZoomRed)}
      />
      <YLabel x={556} y={727} runs={microns} />
      <Rich x={bwX(2.1085)} y={bwY(45)} runs={eSub("M", ital(" w/o acc. FF"))} fill={BLUE} />
      <Arrow x1={bwX(2.1019)} y1={bwY(49.2)} x2={bwX(2.064)} y2={bwY(49.2)} color={BLUE} />
      <Rich x={bwX(2.1139)} y={bwY(31.4)} runs={eSub("M,C", L1only)} fill={BLACK} />
      <Arrow x1={bwX(2.1139)} y1={bwY(30.4)} x2={bwX(2.0586)} y2={bwY(10.2)} color={BLACK} />
      <Rich x={bwX(2.1485)} y={bwY(19.6)} runs={eSub("M", ital(" w/ acc. FF"))} fill={DKGREEN} />
      <Arrow x1={bwX(2.1451)} y1={bwY(20)} x2={bwX(2.1139)} y2={bwY(9.3)} color={DKGREEN} />
      <Rich x={bwX(2.1684)} y={bwY(7.8)} runs={eSub("M,C", ital(" (Proposed)"))} fill={RED} />
      <Arrow x1={bwX(2.1638)} y1={bwY(9.5)} x2={bwX(2.1465)} y2={bwY(3.7)} color={RED} />
      <Rich x={bwX(2.2716)} y={bwY(-34)} runs={ital("Zoomed View")} fill="#111" anchor="end" />

      {/* ================= c) ================= */}
      <Rich x={527} y={940} anchor="middle" fill="#000" runs={[{ t: "c) Table-Side Tracking Errors", size: 30, bold: true }]} />
      <Plot
        id="clip-cx"
        x={cxX}
        y={cxY}
        xTicks={timeTicks}
        yTicks={[-20, -10, 0, 10]}
        xGrid={timeTicks}
        yGrid={[-20, -10, 0, 10]}
        xLabels={timeLabels}
        yLabels={[
          [10, "10"],
          [0, "0"],
          [-10, "-10"],
        ]}
        xLabelDy={24}
        yLabelGap={7}
        series={[
          { pts: cxRed, color: RED, width: 1.4 },
          { pts: cxBlue, color: BLUE, width: 1.9 },
        ]}
      />
      <YLabel x={37} y={1146} runs={microns} />
      <Plot
        id="clip-cy"
        x={cyX}
        y={cyY}
        xTicks={timeTicks}
        yTicks={[-20, 0, 20]}
        xGrid={timeTicks}
        yGrid={[-20, 0, 20]}
        xLabels={timeLabels}
        yLabels={[
          [20, "20"],
          [-20, "-20"],
        ]}
        xLabelDy={25}
        yLabelGap={6}
        series={[
          { pts: cyRed, color: RED, width: 1.4 },
          { pts: cyBlue, color: BLUE, width: 1.9 },
        ]}
      />
      <YLabel x={528} y={1068} runs={microns} />
      <Rich x={cxX(0.052)} y={cxY(15.3)} runs={ital("X Axis")} fill="#111" />
      <Rich x={cxX(2.018)} y={cxY(-16.3)} runs={eSub("M,C")} fill={BLUE} />
      <Arrow x1={cxX(1.992)} y1={cxY(-14.4)} x2={cxX(1.68)} y2={cxY(-2.4)} color={BLUE} />
      <Rich x={cxX(1.973)} y={cxY(-25)} runs={eSub("T,C")} fill={RED} />
      <Arrow x1={cxX(1.908)} y1={cxY(-22.4)} x2={cxX(1.595)} y2={cxY(-10.3)} color={RED} />

      <Rich x={cyX(0.058)} y={cyY(31.7)} runs={ital("Y Axis")} fill="#111" />
      <Rich x={cyX(1.136)} y={cyY(27.3)} runs={eSub("T,C")} fill={RED} />
      <Arrow x1={cyX(1.104)} y1={cyY(24.8)} x2={cyX(0.89)} y2={cyY(10.1)} color={RED} />
      <Rich x={cyX(1.266)} y={cyY(15.8)} runs={eSub("M,C")} fill={BLUE} />
      <Arrow x1={cyX(1.26)} y1={cyY(14.8)} x2={cyX(1.052)} y2={cyY(1.5)} color={BLUE} />
    </svg>
  );
}
